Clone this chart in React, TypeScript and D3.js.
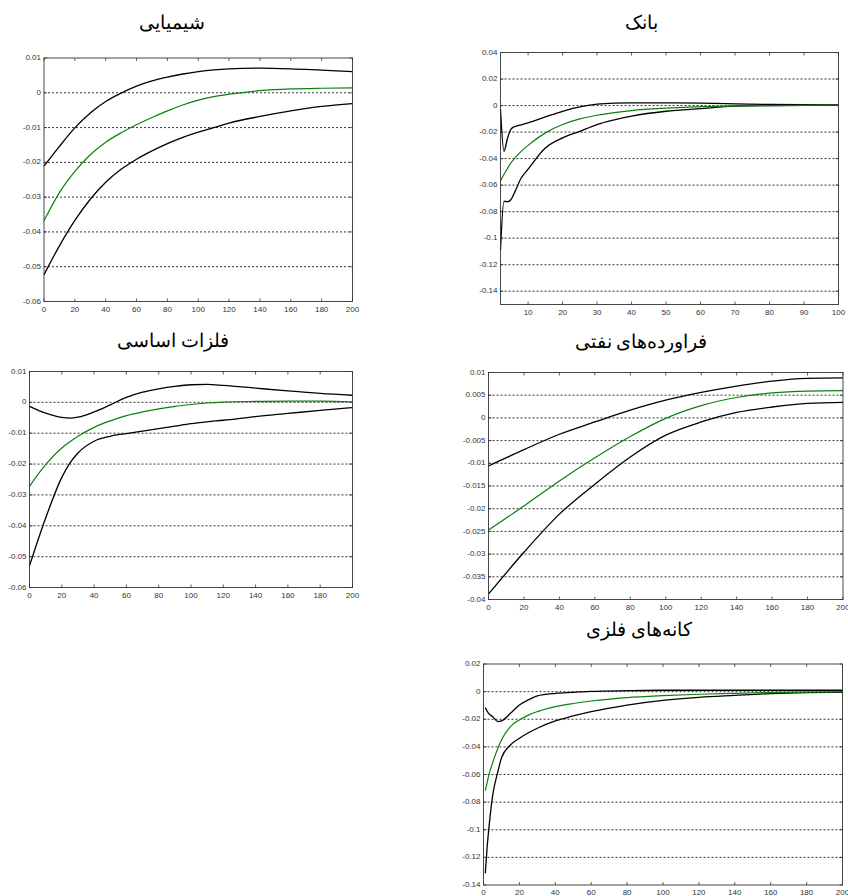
import React from "react";
import * as d3 from "d3";

// ---------- Data ----------
const chemX = [0, 10, 20, 30, 40, 50, 60, 70, 80, 90, 100, 110, 120, 140, 160, 180, 200];
const chemUpper = [-0.0211, -0.0154, -0.0101, -0.0058, -0.0025, -0.0001, 0.0019, 0.0034, 0.0045, 0.0054, 0.0061, 0.0066, 0.0069, 0.0071, 0.0069, 0.0065, 0.0061];
const chemMid = [-0.0368, -0.0287, -0.0226, -0.0178, -0.0142, -0.0115, -0.0092, -0.0071, -0.0052, -0.0035, -0.0021, -0.0011, -0.0004, 0.0006, 0.0011, 0.0013, 0.0014];
const chemLower = [-0.0523, -0.044, -0.0367, -0.0306, -0.0257, -0.022, -0.0191, -0.0167, -0.0146, -0.0128, -0.0113, -0.01, -0.0087, -0.0068, -0.0052, -0.0039, -0.0031];

const bankX = [2, 3, 4, 5, 6, 8, 10, 15, 20, 25, 30, 35, 40, 50, 60, 70, 80, 90, 100];
const bankUpper = [-0.003, -0.0345, -0.025, -0.018, -0.016, -0.0145, -0.013, -0.0086, -0.0043, -0.001, 0.001, 0.0018, 0.002, 0.002, 0.0018, 0.0013, 0.0008, 0.0006, 0.0005];
const bankMid = [-0.0566, -0.052, -0.0475, -0.0433, -0.04, -0.0345, -0.03, -0.0206, -0.0143, -0.0101, -0.0073, -0.0053, -0.0038, -0.002, -0.0008, -0.0003, 0.0, 0.0002, 0.0003];
const bankLower = [-0.1087, -0.0722, -0.0725, -0.071, -0.066, -0.0546, -0.048, -0.032, -0.0244, -0.0194, -0.0143, -0.0108, -0.008, -0.0043, -0.0023, -0.0005, 0.0, 0.0002, 0.0003];

const metalX = [0, 10, 20, 25, 30, 40, 50, 60, 70, 80, 90, 100, 110, 120, 140, 160, 180, 200];
const metalUpper = [-0.0013, -0.0035, -0.0049, -0.0051, -0.0048, -0.0031, -0.0008, 0.0016, 0.0033, 0.0044, 0.0052, 0.0057, 0.0058, 0.0055, 0.0046, 0.0037, 0.0029, 0.0023];
const metalMid = [-0.0272, -0.0202, -0.0148, -0.0128, -0.011, -0.0081, -0.006, -0.0043, -0.0031, -0.0021, -0.0013, -0.0007, -0.0002, 0.0001, 0.0003, 0.0004, 0.0004, 0.0002];
const metalLower = [-0.053, -0.0375, -0.0243, -0.0197, -0.0164, -0.0126, -0.011, -0.0101, -0.0093, -0.0085, -0.0077, -0.0069, -0.0063, -0.0058, -0.0046, -0.0036, -0.0026, -0.0017];

const oilX = [0, 20, 40, 60, 80, 100, 120, 140, 160, 180, 200];
const oilUpper = [-0.0106, -0.007, -0.0036, -0.0009, 0.0017, 0.0039, 0.0056, 0.007, 0.0081, 0.0087, 0.0088];
const oilMid = [-0.0247, -0.0194, -0.0139, -0.0088, -0.0041, -0.0001, 0.0027, 0.0045, 0.0055, 0.0059, 0.006];
const oilLower = [-0.0388, -0.0296, -0.0212, -0.0146, -0.0086, -0.0038, -0.0009, 0.0012, 0.0024, 0.0032, 0.0034];

const oreX = [1, 2, 3, 5, 8, 10, 15, 20, 25, 30, 40, 50, 60, 80, 100, 120, 140, 160, 180, 200];
const oreUpper = [-0.0116, -0.014, -0.016, -0.018, -0.0217, -0.0212, -0.0157, -0.0097, -0.006, -0.0031, -0.0012, -0.0005, 0.0002, 0.0007, 0.001, 0.001, 0.001, 0.001, 0.001, 0.001];
const oreMid = [-0.0717, -0.066, -0.0603, -0.0519, -0.041, -0.035, -0.0253, -0.0205, -0.017, -0.0145, -0.0109, -0.0086, -0.0068, -0.0043, -0.0029, -0.0019, -0.0012, -0.0007, -0.0004, -0.0002];
const oreLower = [-0.1315, -0.113, -0.099, -0.076, -0.058, -0.048, -0.0386, -0.0338, -0.0298, -0.0265, -0.0212, -0.0176, -0.0145, -0.0097, -0.0063, -0.0041, -0.0027, -0.0014, -0.0007, -0.0005];

const ticks200 = [0, 20, 40, 60, 80, 100, 120, 140, 160, 180, 200];
const ticks100 = [10, 20, 30, 40, 50, 60, 70, 80, 90, 100];
const yTicksA = [0.01, 0, -0.01, -0.02, -0.03, -0.04, -0.05, -0.06];
const yLabelsA = ["0.01", "0", "-0.01", "-0.02", "-0.03", "-0.04", "-0.05", "-0.06"];
const yTicksBank = [0.04, 0.02, 0, -0.02, -0.04, -0.06, -0.08, -0.1, -0.12, -0.14];
const yLabelsBank = ["0.04", "0.02", "0", "-0.02", "-0.04", "-0.06", "-0.08", "-0.1", "-0.12", "-0.14"];
const yTicksOil = [0.01, 0.005, 0, -0.005, -0.01, -0.015, -0.02, -0.025, -0.03, -0.035, -0.04];
const yLabelsOil = ["0.01", "0.005", "0", "-0.005", "-0.01", "-0.015", "-0.02", "-0.025", "-0.03", "-0.035", "-0.04"];
const yTicksOre = [0.02, 0, -0.02, -0.04, -0.06, -0.08, -0.1, -0.12, -0.14];
const yLabelsOre = ["0.02", "0", "-0.02", "-0.04", "-0.06", "-0.08", "-0.1", "-0.12", "-0.14"];

const titles = ["شیمیایی", "بانک", "فلزات اساسی", "فراورده‌های نفتی", "کانه‌های فلزی"];

type Panel = {
  title: string;
  box: [number, number, number, number]; // left, top, right, bottom
  titleXY: [number, number];
  xDomain: [number, number];
  yDomain: [number, number];
  xTicks: number[];
  yTicks: number[];
  yLabels: string[];
  xs: number[];
  upper: number[];
  mid: number[];
  lower: number[];
};

const panels: Panel[] = [
  { title: titles[0], box: [44, 58, 352.5, 301.5], titleXY: [172, 25], xDomain: [0, 200], yDomain: [-0.06, 0.01], xTicks: ticks200, yTicks: yTicksA, yLabels: yLabelsA, xs: chemX, upper: chemUpper, mid: chemMid, lower: chemLower },
  { title: titles[1], box: [500.5, 52.5, 838.5, 304.5], titleXY: [641, 25], xDomain: [2, 100], yDomain: [-0.15, 0.04], xTicks: ticks100, yTicks: yTicksBank, yLabels: yLabelsBank, xs: bankX, upper: bankUpper, mid: bankMid, lower: bankLower },
  { title: titles[2], box: [29.5, 371.5, 352.5, 587.5], titleXY: [173, 343], xDomain: [0, 200], yDomain: [-0.06, 0.01], xTicks: ticks200, yTicks: yTicksA, yLabels: yLabelsA, xs: metalX, upper: metalUpper, mid: metalMid, lower: metalLower },
  { title: titles[3], box: [488.5, 372.5, 843, 599.5], titleXY: [641, 344], xDomain: [0, 200], yDomain: [-0.04, 0.01], xTicks: ticks200, yTicks: yTicksOil, yLabels: yLabelsOil, xs: oilX, upper: oilUpper, mid: oilMid, lower: oilLower },
  { title: titles[4], box: [483.5, 664, 842.5, 885], titleXY: [639, 632], xDomain: [0, 200], yDomain: [-0.14, 0.02], xTicks: ticks200, yTicks: yTicksOre, yLabels: yLabelsOre, xs: oreX, upper: oreUpper, mid: oreMid, lower: oreLower },
];

const tickFont = "'Liberation Sans Narrow', 'Liberation Sans', Arial, sans-serif";

function PanelView({ p }: { p: Panel }) {
  const [l, t, r, b] = p.box;
  const x = d3.scaleLinear().domain(p.xDomain).range([l, r]);
  const y = d3.scaleLinear().domain(p.yDomain).range([b, t]);
  const line = d3
    .line<number>()
    .x((_, i) => x(p.xs[i]))
    .y((v) => y(v))
    .curve(d3.curveMonotoneX);
  const tl = 3;
  return (
    <g>
      <text
        x={p.titleXY[0]}
        y={p.titleXY[1]}
        textAnchor="middle"
        dominantBaseline="middle"
        fontFamily="'Times New Roman', 'DejaVu Serif', serif"
        fontSize={19}
        direction="rtl"
        fill="#000"
      >
        {p.title}
      </text>
      <rect x={l} y={t} width={r - l} height={b - t} fill="#fff" />
      {p.yTicks.map((v, i) => {
        const yy = y(v);
        const edge = Math.abs(yy - t) < 1 || Math.abs(yy - b) < 1;
        return (
          <g key={"y" + i}>
            {!edge && (
              <line x1={l} x2={r} y1={yy} y2={yy} stroke="#000" strokeWidth={0.8} strokeDasharray="2,2" />
            )}
            <line x1={l} x2={l + tl} y1={yy} y2={yy} stroke="#333" strokeWidth={0.8} />
            <line x1={r} x2={r - tl} y1={yy} y2={yy} stroke="#333" strokeWidth={0.8} />
            <text x={l - 3} y={yy} textAnchor="end" dominantBaseline="middle" fontFamily={tickFont} fontSize={8} fill="#333">
              {p.yLabels[i]}
            </text>
          </g>
        );
      })}
      {p.xTicks.map((v, i) => {
        const xx = x(v);
        return (
          <g key={"x" + i}>
            <line x1={xx} x2={xx} y1={b} y2={b - tl} stroke="#333" strokeWidth={0.8} />
            <line x1={xx} x2={xx} y1={t} y2={t + tl} stroke="#333" strokeWidth={0.8} />
            <text x={xx} y={b + 8} textAnchor="middle" dominantBaseline="middle" fontFamily={tickFont} fontSize={8} fill="#333">
              {v}
            </text>
          </g>
        );
      })}
      <path d={line(p.upper) || ""} fill="none" stroke="#000" strokeWidth={1.3} />
      <path d={line(p.lower) || ""} fill="none" stroke="#000" strokeWidth={1.3} />
      <path d={line(p.mid) || ""} fill="none" stroke="#0a800a" strokeWidth={1.2} />
      <rect x={l} y={t} width={r - l} height={b - t} fill="none" stroke="#333" strokeWidth={0.9} />
    </g>
  );
}

export default function App() {
  return (
    <svg
      width={848}
      height={896}
      viewBox="0 0 848 896"
      style={{ position: "absolute", left: 0, top: 0, background: "#fff" }}
    >
      <rect x={0} y={0} width={848} height={896} fill="#fff" />
      {panels.map((p, i) => (
        <PanelView key={i} p={p} />
      ))}
    </svg>
  );
}
